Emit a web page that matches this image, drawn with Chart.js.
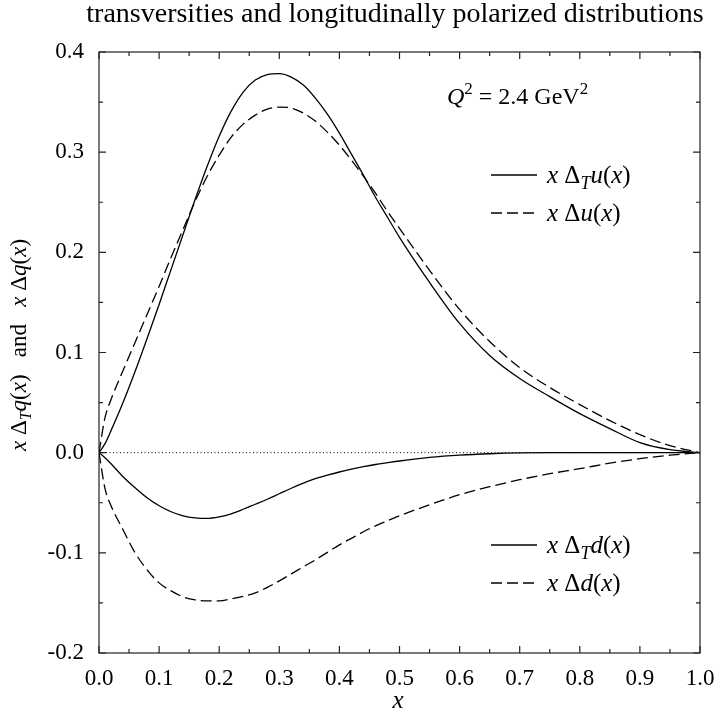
<!DOCTYPE html>
<html>
<head>
<meta charset="utf-8">
<script src="https://cdn.jsdelivr.net/npm/chart.js@4.4.1/dist/chart.umd.min.js"></script>
<style>
  html, body { margin: 0; padding: 0; background: #fff; }
</style>
</head>
<body>
<canvas id="chart" width="714" height="719"></canvas>
<script>
// x grid shared by all four curves
const xs = [0, 0.01, 0.02, 0.04, 0.06, 0.08, 0.10, 0.12, 0.14, 0.16, 0.18, 0.20, 0.22, 0.24, 0.26, 0.28,
  0.30, 0.32, 0.34, 0.36, 0.38, 0.40, 0.42, 0.44, 0.46, 0.48, 0.50, 0.55, 0.60, 0.65, 0.70, 0.75,
  0.80, 0.85, 0.90, 0.95, 1.0];

// x Δ_T u(x)
const transU = [0, 0.009, 0.022, 0.05, 0.081, 0.114, 0.148, 0.183, 0.218, 0.253, 0.286, 0.316, 0.341, 0.36, 0.372, 0.3775,
  0.3785, 0.375, 0.367, 0.354, 0.338, 0.319, 0.298, 0.277, 0.255, 0.235, 0.215, 0.17, 0.129, 0.097, 0.074, 0.056,
  0.039, 0.024, 0.010, 0.003, 0];
// x Δu(x)
const helU = [0, 0.035, 0.053, 0.082, 0.11, 0.138, 0.166, 0.195, 0.223, 0.251, 0.276, 0.297, 0.315, 0.328, 0.337, 0.343,
  0.345, 0.344, 0.339, 0.331, 0.32, 0.307, 0.292, 0.276, 0.259, 0.241, 0.224, 0.182, 0.143, 0.111, 0.085, 0.065,
  0.048, 0.032, 0.018, 0.007, 0];
// x Δ_T d(x)
const transD = [0, -0.005, -0.011, -0.024, -0.035, -0.045, -0.053, -0.059, -0.063, -0.065, -0.0655, -0.064, -0.061, -0.0565, -0.0515, -0.0465,
  -0.041, -0.0355, -0.0305, -0.026, -0.0225, -0.0193, -0.0165, -0.014, -0.0118, -0.010, -0.0083, -0.0048, -0.0025, -0.0011, -0.0003, 0,
  0, 0, 0, 0, 0];
// x Δd(x)
const helD = [0, -0.036, -0.053, -0.077, -0.1, -0.117, -0.13, -0.138, -0.144, -0.147, -0.148, -0.148, -0.146, -0.1435, -0.14, -0.1345,
  -0.128, -0.121, -0.114, -0.107, -0.0995, -0.092, -0.0855, -0.079, -0.073, -0.068, -0.063, -0.052, -0.042, -0.034, -0.027, -0.021,
  -0.016, -0.0105, -0.006, -0.0025, 0];

const zeroLine = [0, 0];
const zeroX = [0, 1];

const xMin = 0, xMax = 1, xStep = 0.1;
const yMin = -0.2, yMax = 0.4, yStep = 0.1;

const SERIF = '"Liberation Serif", "DejaVu Serif", serif';
const DASH = [11, 5];

const toPts = (px, py) => px.map((x, i) => ({ x, y: py[i] }));

// draws a line of text made of roman / italic / sub / sup pieces
function drawRich(ctx, parts, x, y, size, align) {
  const fontOf = p => `${p.i ? 'italic ' : ''}${p.s ? Math.round(size * 0.7) : size}px ${SERIF}`;
  let w = 0;
  parts.forEach(p => { ctx.font = fontOf(p); p.w = ctx.measureText(p.t).width; w += p.w; });
  let cx = align === 'center' ? x - w / 2 : x;
  ctx.textBaseline = 'alphabetic';
  ctx.textAlign = 'left';
  parts.forEach(p => {
    ctx.font = fontOf(p);
    const dy = p.s === 'sub' ? size * 0.22 : p.s === 'sup' ? -size * 0.42 : 0;
    ctx.fillText(p.t, cx, y + dy);
    cx += p.w;
  });
}

const labelTu = [{ t: 'x', i: 1 }, { t: ' Δ' }, { t: 'T', i: 1, s: 'sub' }, { t: 'u', i: 1 }, { t: '(' }, { t: 'x', i: 1 }, { t: ')' }];
const labelU = [{ t: 'x', i: 1 }, { t: ' Δ' }, { t: 'u', i: 1 }, { t: '(' }, { t: 'x', i: 1 }, { t: ')' }];
const labelTd = [{ t: 'x', i: 1 }, { t: ' Δ' }, { t: 'T', i: 1, s: 'sub' }, { t: 'd', i: 1 }, { t: '(' }, { t: 'x', i: 1 }, { t: ')' }];
const labelD = [{ t: 'x', i: 1 }, { t: ' Δ' }, { t: 'd', i: 1 }, { t: '(' }, { t: 'x', i: 1 }, { t: ')' }];

const annotations = {
  id: 'annotations',
  afterDatasetsDraw(chart) {
    const { ctx, chartArea: a, scales: { x, y } } = chart;
    ctx.save();

    // frame and inward ticks on all four sides
    ctx.strokeStyle = '#222';
    ctx.lineWidth = 1.2;
    ctx.strokeRect(a.left, a.top, a.right - a.left, a.bottom - a.top);
    ctx.beginPath();
    for (let i = 0; i <= 20; i++) {
      const px = x.getPixelForValue(xMin + i * xStep / 2);
      const len = i % 2 ? 4 : 7;
      ctx.moveTo(px, a.bottom); ctx.lineTo(px, a.bottom - len);
      ctx.moveTo(px, a.top); ctx.lineTo(px, a.top + len);
    }
    for (let i = 0; i <= 12; i++) {
      const py = y.getPixelForValue(yMin + i * yStep / 2);
      const len = i % 2 ? 4 : 7;
      ctx.moveTo(a.left, py); ctx.lineTo(a.left + len, py);
      ctx.moveTo(a.right, py); ctx.lineTo(a.right - len, py);
    }
    ctx.stroke();

    ctx.fillStyle = '#000';

    // title
    ctx.font = `28px ${SERIF}`;
    ctx.textAlign = 'center';
    ctx.textBaseline = 'alphabetic';
    ctx.fillText('transversities and longitudinally polarized distributions', 395, 22);

    // Q^2 label
    drawRich(ctx, [{ t: 'Q', i: 1 }, { t: '2', s: 'sup' }, { t: ' = 2.4 GeV' }, { t: '2', s: 'sup' }], 447, 104, 24);

    // legends
    const legend = (items, x0, y0) => {
      items.forEach((it, k) => {
        const yy = y0 + k * 38;
        ctx.beginPath();
        ctx.lineWidth = 1.3;
        ctx.setLineDash(it.dash);
        ctx.moveTo(x0, yy); ctx.lineTo(x0 + 46, yy);
        ctx.stroke();
        ctx.setLineDash([]);
        drawRich(ctx, it.label, x0 + 56, yy + 8, 25);
      });
    };
    ctx.strokeStyle = '#000';
    legend([{ dash: [], label: labelTu }, { dash: DASH, label: labelU }], 491, 175);
    legend([{ dash: [], label: labelTd }, { dash: DASH, label: labelD }], 491, 545);

    // axis titles
    drawRich(ctx, [{ t: 'x', i: 1 }], 398, 708, 25, 'center');
    ctx.translate(26, 345);
    ctx.rotate(-Math.PI / 2);
    drawRich(ctx, [{ t: 'x', i: 1 }, { t: ' Δ' }, { t: 'T', i: 1, s: 'sub' }, { t: 'q', i: 1 }, { t: '(' }, { t: 'x', i: 1 }, { t: ')' },
      { t: '   and   ' }, { t: 'x', i: 1 }, { t: ' Δ' }, { t: 'q', i: 1 }, { t: '(' }, { t: 'x', i: 1 }, { t: ')' }], 0, 0, 23, 'center');
    ctx.restore();
  }
};

const line = (data, dash, width) => ({
  data, showLine: true, borderColor: '#000', borderWidth: width, borderDash: dash,
  pointRadius: 0, cubicInterpolationMode: 'monotone', fill: false
});

new Chart(document.getElementById('chart'), {
  type: 'scatter',
  data: {
    datasets: [
      line(toPts(zeroX, zeroLine), [1, 2.5], 1),
      line(toPts(xs, transU), [], 1.3),
      line(toPts(xs, helU), DASH, 1.3),
      line(toPts(xs, transD), [], 1.3),
      line(toPts(xs, helD), DASH, 1.3)
    ]
  },
  options: {
    responsive: false,
    animation: false,
    layout: { padding: { left: 0, top: 52, right: 14, bottom: 0 } },
    plugins: { legend: { display: false }, tooltip: { enabled: false } },
    scales: {
      x: {
        type: 'linear', min: xMin, max: xMax,
        grid: { display: false, drawTicks: false },
        border: { display: false },
        ticks: { stepSize: xStep, padding: 12, color: '#000', maxRotation: 0,
          font: { family: SERIF, size: 23 }, callback: v => v.toFixed(1) },
        afterFit: s => { s.height = 66; s.paddingLeft = 0; s.paddingRight = 0; }
      },
      y: {
        type: 'linear', min: yMin, max: yMax,
        grid: { display: false, drawTicks: false },
        border: { display: false },
        ticks: { stepSize: yStep, padding: 15, color: '#000',
          font: { family: SERIF, size: 23 }, callback: v => v.toFixed(1) },
        afterFit: s => { s.width = 99; s.paddingTop = 0; s.paddingBottom = 0; }
      }
    }
  },
  plugins: [annotations]
});
</script>
</body>
</html>
